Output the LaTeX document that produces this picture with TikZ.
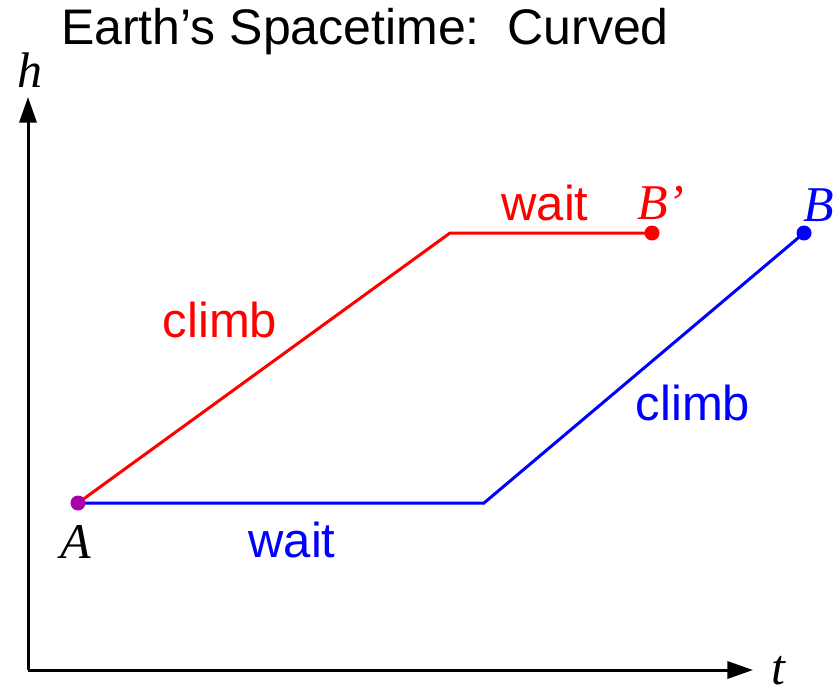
\documentclass[tikz,border=0pt]{standalone}
\usepackage{fontspec}
\setmainfont{Liberation Serif}
\setsansfont{Liberation Sans}
\usetikzlibrary{arrows.meta}
\definecolor{stRed}{HTML}{FF0000}
\definecolor{stBlue}{HTML}{0000FF}
\definecolor{stPurple}{HTML}{AA00AA}
\definecolor{stInk}{HTML}{000000}

\begin{document}
\begin{tikzpicture}[
  x=0.5pt,y=-0.5pt,
  font=\sffamily\fontsize{24.5}{28}\selectfont,
  every node/.style={text=stInk,inner sep=0pt,outer sep=0pt},
  axis/.style={-{Triangle[length=4.5mm,width=3mm]},line width=1.5pt,draw=stInk},
  path/.style={line width=1.5pt},
  var/.style={font=\rmfamily\itshape\fontsize{25}{28}\selectfont},
  dot/.style={circle,minimum size=7.5pt}
]
\path[use as bounding box] (0,0) rectangle (835,690);
\node[font=\sffamily\fontsize{25}{28}\selectfont] (title) at (365,32) {Earth’s Spacetime:\ \ Curved};
% axes
\coordinate (O) at (28,670);
\coordinate (hend) at (28,97);
\coordinate (tend) at (753,670);
\draw[axis] (O) -- (hend);
\draw[axis] (O) -- (tend);
\node[var] (hlab) at (30,70) {h};
\node[var] (tlab) at (778,671) {t};
% events
\coordinate (A) at (78,503);
\coordinate (redtop) at (450,233);
\coordinate (Bp) at (652,233);
\coordinate (bluelow) at (484,503);
\coordinate (B) at (804,233);
\draw[path,draw=stRed] (A) -- (redtop) -- (Bp);
\draw[path,draw=stBlue] (A) -- (bluelow) -- (B);
\node[dot,fill=stRed] (Bpdot) at (Bp) {};
\node[dot,fill=stBlue] (Bdot) at (B) {};
\node[dot,fill=stPurple] (Adot) at (A) {};
% labels
\node[var] (Alab) at (76,542) {A};
\node[var,text=stRed] (Bplab) at (661,203) {B’};
\node[var,text=stBlue] (Blab) at (819,205) {B};
\node[text=stRed] (climbred) at (220,320) {climb};
\node[text=stRed] (waitred) at (545,203) {wait};
\node[text=stBlue] (climbblue) at (693,403) {climb};
\node[text=stBlue] (waitblue) at (292,540) {wait};
\end{tikzpicture}
\end{document}
